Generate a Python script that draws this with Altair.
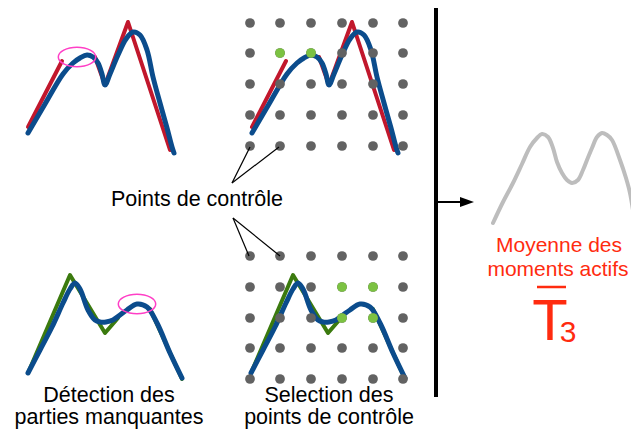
import altair as alt
import pandas as pd

# ---------------- data (pixel coordinates) ----------------
# control-point grid (middle column)
grid_x = [250, 280, 311, 342, 373, 403]
grid_y_top = [23, 53, 84, 115, 146]
grid_y_bottom = [256, 287, 318, 348, 379]
sel_top_x = [280, 311]
sel_top_y = [53, 53]
sel_bot_x = [342, 373, 342, 373]
sel_bot_y = [287, 287, 318, 318]

# panel horizontal offsets (left panel, middle panel)
top_offsets = [0, 224]
bottom_offsets = [0, 223]

# top motion: smooth (blue) and raw with missing part (red)
blue_top_x = [28, 45, 63, 73, 80, 87, 93, 98, 102, 105, 110, 118, 126, 133, 140, 147, 153, 160, 167, 172, 174]
blue_top_y = [133, 104, 74, 63, 58, 55, 57, 63, 74, 85, 74, 55, 39, 32, 35, 50, 77, 103, 128, 147, 153]
red_a_x = [28, 62]
red_a_y = [127, 61]
red_b_x = [95, 105, 128, 170]
red_b_y = [57, 85, 22, 150]

# bottom motion: smooth (blue) and raw with missing part (green)
blue_bot_x = [28, 40, 52, 63, 70, 75, 80, 88, 95, 100, 106, 113, 120, 127, 137, 147, 157, 170, 182]
blue_bot_y = [373, 350, 327, 303, 289, 283, 289, 310, 320, 322, 322, 320, 315, 310, 304, 307, 323, 353, 378]
green_a_x = [28, 70, 105, 118]
green_a_y = [373, 275, 333, 318]
green_b_x = [150, 182]
green_b_y = [309, 379]

# averaged motion (grey)
grey_x = [493, 503, 513, 522, 530, 537, 542, 548, 553, 557, 562, 567, 572, 578, 583, 587, 592, 597, 602, 607, 612, 620, 626, 630, 635, 637]
grey_y = [223, 202, 183, 164, 147, 138, 134, 137, 148, 162, 173, 180, 183, 180, 170, 160, 148, 137, 133, 135, 140, 160, 178, 193, 223, 237]

# missing-part markers (ellipse centres)
ell_x = [77, 137]
ell_y = [57, 304]

# leader lines for "Points de contrôle"
lead_x1 = [232, 232, 233, 233]
lead_y1 = [183, 183, 218, 218]
lead_x2 = [250, 279, 249, 280]
lead_y2 = [147, 147, 256, 256]

# separator and arrow
sep_x = [436]
sep_y1 = [8]
sep_y2 = [397]
arrow_x1 = [436]
arrow_x2 = [462]
arrow_y = [202]
arrow_tip_x = [467]

# overline of T3
bar_x1 = [537]
bar_x2 = [566]
bar_y = [287]

black_labels = ["Points de contrôle", "Détection des", "parties manquantes", "Selection des", "points de contrôle"]
black_lx = [197, 109, 109, 329, 329]
black_ly = [206, 402, 424, 402, 424]
red_labels = ["Moyenne des", "moments actifs"]
red_lx = [559, 558]
red_ly = [252, 276]
t_label = ["T"]
t_x = [550]
t_y = [340]
sub_label = ["3"]
sub_x = [568]
sub_y = [342]

# ---------------- build tables ----------------
def curve(xs, ys, offsets, name):
    rows = []
    for k, off in enumerate(offsets):
        for i, (x, y) in enumerate(zip(xs, ys)):
            rows.append({"x": x + off, "y": y, "i": i, "seg": f"{name}{k}"})
    return rows

blue_df = pd.DataFrame(curve(blue_top_x, blue_top_y, top_offsets, "bt")
                       + curve(blue_bot_x, blue_bot_y, bottom_offsets, "bb"))
red_df = pd.DataFrame(curve(red_a_x, red_a_y, top_offsets, "ra")
                      + curve(red_b_x, red_b_y, top_offsets, "rb"))
green_df = pd.DataFrame(curve(green_a_x, green_a_y, bottom_offsets, "ga")
                        + curve(green_b_x, green_b_y, bottom_offsets, "gb"))
grey_df = pd.DataFrame(curve(grey_x, grey_y, [0], "g"))

grid_df = pd.DataFrame([{"x": gx, "y": gy} for gy in grid_y_top + grid_y_bottom for gx in grid_x])
sel_df = pd.DataFrame({"x": sel_top_x + sel_bot_x, "y": sel_top_y + sel_bot_y})
ell_df = pd.DataFrame({"x": ell_x, "y": ell_y})
lead_df = pd.DataFrame({"x": lead_x1, "y": lead_y1, "x2": lead_x2, "y2": lead_y2})
sep_df = pd.DataFrame({"x": sep_x, "y": sep_y1, "y2": sep_y2})
arrow_df = pd.DataFrame({"x": arrow_x1, "x2": arrow_x2, "y": arrow_y})
tip_df = pd.DataFrame({"x": arrow_tip_x, "y": arrow_y})
bar_df = pd.DataFrame({"x": bar_x1, "x2": bar_x2, "y": bar_y})
black_df = pd.DataFrame({"x": black_lx, "y": black_ly, "t": black_labels})
red_df_t = pd.DataFrame({"x": red_lx, "y": red_ly, "t": red_labels})
t_df = pd.DataFrame({"x": t_x, "y": t_y, "t": t_label})
sub_df = pd.DataFrame({"x": sub_x, "y": sub_y, "t": sub_label})

# ---------------- encodings ----------------
xs = alt.Scale(domain=[8, 631], nice=False, zero=False)
ys = alt.Scale(domain=[8, 429], nice=False, zero=False, reverse=True)
X = alt.X("x:Q", scale=xs, axis=None)
Y = alt.Y("y:Q", scale=ys, axis=None)

FONT = "Liberation Sans"
BLUE = "#0b4c8c"
RED = "#c1172c"
GREEN = "#3b7a0e"
PINK = "#ff3fc6"
ORANGE_RED = "#ff2b0f"


def lines(df, color, width, interp):
    return alt.Chart(df).mark_line(
        color=color, strokeWidth=width, interpolate=interp,
        strokeCap="round", strokeJoin="round"
    ).encode(x=X, y=Y, detail="seg:N", order="i:Q")


red_layer = lines(red_df, RED, 4, "linear")
green_layer = lines(green_df, GREEN, 4, "linear")
blue_layer = lines(blue_df, BLUE, 5, "catmull-rom")
grey_layer = lines(grey_df, "#bdbdbd", 4, "catmull-rom")

ellipse_path = "M-1,0A1,0.52,0,1,0,1,0A1,0.52,0,1,0,-1,0Z"
ell_layer = alt.Chart(ell_df).mark_point(
    shape=ellipse_path, size=1400, filled=False, stroke=PINK, strokeWidth=1.5, opacity=1
).encode(x=X, y=Y)

grid_layer = alt.Chart(grid_df).mark_circle(size=95, color="#626262", opacity=1).encode(x=X, y=Y)
sel_layer = alt.Chart(sel_df).mark_circle(size=95, color="#7cc242", opacity=1).encode(x=X, y=Y)

lead_layer = alt.Chart(lead_df).mark_rule(color="black", strokeWidth=1.2).encode(
    x=X, y=Y, x2="x2:Q", y2="y2:Q")
sep_layer = alt.Chart(sep_df).mark_rule(color="black", strokeWidth=4).encode(x=X, y=Y, y2="y2:Q")
arrow_layer = alt.Chart(arrow_df).mark_rule(color="black", strokeWidth=2).encode(x=X, x2="x2:Q", y=Y)
tip_layer = alt.Chart(tip_df).mark_point(
    shape="M-1,-0.7L1,0L-1,0.7Z", size=196, filled=True, color="black", opacity=1
).encode(x=X, y=Y)
bar_layer = alt.Chart(bar_df).mark_rule(color=ORANGE_RED, strokeWidth=2.5).encode(x=X, x2="x2:Q", y=Y)


def texts(df, color, size):
    return alt.Chart(df).mark_text(
        font=FONT, fontSize=size, color=color, align="center", baseline="alphabetic"
    ).encode(x=X, y=Y, text="t:N")


black_text = texts(black_df, "black", 21.5)
red_text = texts(red_df_t, ORANGE_RED, 21)
t_text = texts(t_df, ORANGE_RED, 58)
sub_text = texts(sub_df, ORANGE_RED, 30)

chart = alt.layer(
    red_layer, green_layer, blue_layer, grey_layer, ell_layer,
    grid_layer, sel_layer, lead_layer, sep_layer, arrow_layer, tip_layer,
    bar_layer, black_text, red_text, t_text, sub_text
).properties(
    width=623, height=421, padding=0, autosize="none", background="white"
).configure_view(stroke=None)

chart.save("out.html", embed_options={"renderer": "svg", "actions": False})
